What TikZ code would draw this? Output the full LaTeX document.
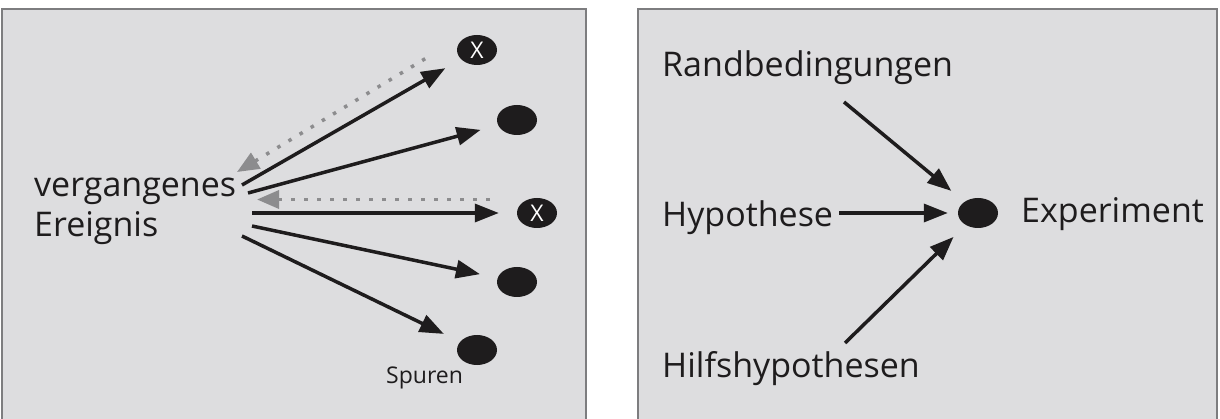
\documentclass[tikz,border=0pt]{standalone}
\usepackage{fontspec}
\setmainfont{Open Sans}
\usetikzlibrary{arrows.meta,shapes.geometric}
\definecolor{panel}{RGB}{221,221,223}
\definecolor{frame}{RGB}{125,125,127}
\definecolor{ink}{RGB}{30,28,29}
\definecolor{trace}{RGB}{140,140,142}
\tikzset{
  panelbox/.style={fill=panel, draw=frame, line width=2.5pt},
  txt/.style={inner sep=0pt, text=ink, font=\fontsize{34}{40}\selectfont},
  blob/.style={ellipse, fill=ink, minimum width=40pt, minimum height=30pt, inner sep=0pt},
  crossblob/.style={blob, text=white, font=\fontsize{23}{23}\selectfont},
  push/.style={draw=ink, line width=3.5pt, -{Triangle[length=24pt,width=18pt]}, shorten >=18pt},
  backtrace/.style={draw=trace, line width=3.5pt, dash pattern=on 3.5pt off 9.5pt,
    {Triangle[length=22pt,width=18pt]}-},
}
\begin{document}
\begin{tikzpicture}[x=1pt, y=-1pt]
  \useasboundingbox (0,0) rectangle (1220,419);
  \fill[white] (0,0) rectangle (1220,419);
  \begin{scope}
    \clip (0,0) rectangle (1220,419);
    \draw[panelbox] (2,9) rectangle (586,430);
    \draw[panelbox] (638,9) rectangle (1217,430);
  \end{scope}

  % left panel: a past event and its traces
  \node[txt, anchor=base west, align=left] (ev) at (34,237) {vergangenes\\Ereignis};
  \node[crossblob] (t1) at (477,50) {X};
  \node[blob] (t2) at (517,120) {};
  \node[crossblob] (t3) at (537,213) {X};
  \node[blob] (t4) at (517,282) {};
  \node[blob] (t5) at (477,350) {};
  \node[txt, font=\fontsize{23}{23}\selectfont, anchor=base west] (sp) at (386,383) {Spuren};

  \coordinate (s1) at (242,185);
  \coordinate (s2) at (248,193);
  \coordinate (s3) at (252,213);
  \coordinate (s4) at (252,226);
  \coordinate (s5) at (242,236);
  \draw[push] (s1) -- (t1);
  \draw[push] (s2) -- (t2);
  \draw[push] (s3) -- (t3);
  \draw[push] (s4) -- (t4);
  \draw[push] (s5) -- (t5);

  \coordinate (b1s) at (428,57);
  \coordinate (b1e) at (237,172);
  \coordinate (b2s) at (495,199.5);
  \coordinate (b2e) at (257,199.5);
  \draw[backtrace] (b1e) -- (b1s);
  \draw[backtrace] (b2e) -- (b2s);

  % right panel: what goes into an experiment
  \node[txt, anchor=base west] (rand) at (662,77) {Randbedingungen};
  \node[txt, anchor=base west] (hyp) at (662,227) {Hypothese};
  \node[txt, anchor=base west] (hilf) at (662,377) {Hilfshypothesen};
  \node[blob] (exp) at (978,213) {};
  \node[txt, anchor=base west] (expl) at (1021,223) {Experiment};

  \coordinate (r0) at (844,102);
  \coordinate (h0) at (845,343);
  \draw[push, shorten >=17pt] (r0) -- (exp);
  \draw[push, shorten >=10pt, shorten <=6pt] (hyp.east |- exp) -- (exp);
  \draw[push, shorten >=17pt] (h0) -- (exp);
\end{tikzpicture}
\end{document}
